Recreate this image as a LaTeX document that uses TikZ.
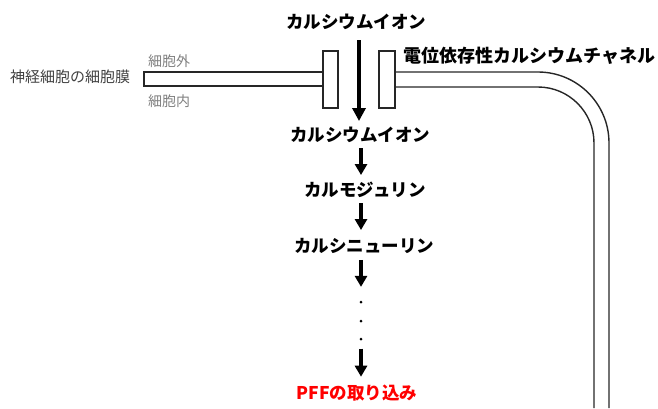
\documentclass[tikz,border=0pt]{standalone}
\usepackage{fontspec}
\setmainfont{Noto Sans CJK JP}
\usetikzlibrary{arrows.meta}
\definecolor{darkg}{HTML}{404040}
\definecolor{lightg}{HTML}{7F7F7F}
\tikzset{
  lbl/.style={font=\fontsize{17.5}{17.5}\selectfont\bfseries, inner sep=0pt, text=black},
  side/.style={font=\fontsize{14}{14}\selectfont, inner sep=0pt},
  mem/.style={line width=1.4pt, draw=black!85},
  arr/.style={line width=3.5pt, -{Triangle[width=12pt,length=11pt]}},
  bigarr/.style={line width=4pt, -{Triangle[width=13pt,length=13pt]}},
  dotn/.style={circle, fill=black, inner sep=0pt, minimum size=3pt},
}
\begin{document}
\begin{tikzpicture}[x=1pt,y=-1pt]
\useasboundingbox (0,0) rectangle (658,408);
% membrane left
\node[side, text=darkg, font=\fontsize{15}{15}\selectfont] (membr) at (70,77) {神経細胞の細胞膜};
\node[side, text=lightg, anchor=west] (outside) at (148,61) {細胞外};
\node[side, text=lightg, anchor=west] (inside) at (148,101) {細胞内};
\draw[mem, fill=white] (144,72) rectangle (323,86);
% channel blocks
\draw[mem, fill=white] (323,51) rectangle (338,108);
\draw[mem, fill=white] (379,51) rectangle (395,108);
% right membrane tube
\draw[mem] (395,72) -- (538,72) arc[start angle=-90, end angle=0, radius=71] -- (609,408);
\draw[mem] (395,87) -- (538,87) arc[start angle=-90, end angle=0, radius=56] -- (594,408);
\node[lbl, anchor=west, font=\fontsize{18}{18}\selectfont\bfseries] (chan) at (403,56) {電位依存性カルシウムチャネル};
% chain
\node[lbl] (ion1) at (356,22) {カルシウムイオン};
\node[lbl] (ion2) at (360,135) {カルシウムイオン};
\node[lbl] (calm) at (365,190) {カルモジュリン};
\node[lbl] (caln) at (364,246) {カルシニューリン};
\node[dotn] (d1) at (361,302) {};
\node[dotn] (d2) at (361,321) {};
\node[dotn] (d3) at (361,339) {};
\node[lbl, text=red] (pff) at (357,393) {PFFの取り込み};
\coordinate (c0) at (359,0);
\coordinate (c1) at (361,0);
\draw[bigarr] (ion1.south -| c0) ++(0,10) -- ++(0,81);
\draw[arr] (ion2.south -| c1) ++(0,5) -- ++(0,27);
\draw[arr] (calm.south -| c1) ++(0,5) -- ++(0,27);
\draw[arr] (caln.south -| c1) ++(0,6) -- ++(0,27);
\draw[arr] (d3.south -| c1) ++(0,8) -- ++(0,28);
\end{tikzpicture}
\end{document}
